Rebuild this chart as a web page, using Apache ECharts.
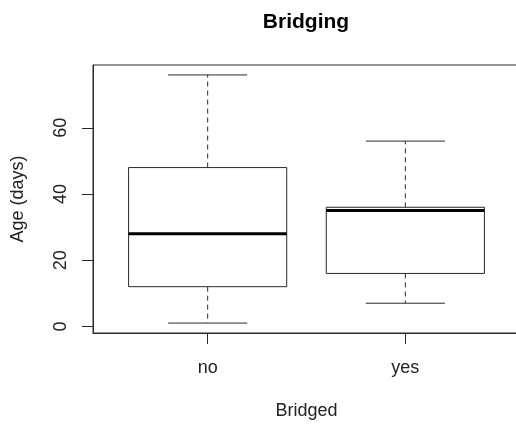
<!DOCTYPE html>
<html>
<head>
<meta charset="utf-8">
<script src="https://cdn.jsdelivr.net/npm/echarts@6/dist/echarts.min.js"></script>
<style>
  html, body { margin: 0; padding: 0; background: #fff; }
  #chart { width: 516px; height: 425px; }
</style>
</head>
<body>
<div id="chart"></div>
<script>
// boxplot stats per group
const categories = ['no', 'yes'];
const lowerWhisker = [1, 7];
const lowerHinge = [12, 16];
const medians = [28, 35];
const upperHinge = [48, 36];
const upperWhisker = [76, 56];

const yTicks = [0, 20, 40, 60];
const xTicks = [1, 2];

const font = 'Liberation Sans, Arial, Helvetica, sans-serif';
const ink = '#2a2a2a';

const boxData = categories.map((c, i) => [
  i + 1, lowerWhisker[i], lowerHinge[i], medians[i], upperHinge[i], upperWhisker[i]
]);

const renderBox = (params, api) => {
  const x = api.value(0);
  const pMin = api.coord([x, api.value(1)]);
  const pQ1 = api.coord([x, api.value(2)]);
  const pMed = api.coord([x, api.value(3)]);
  const pQ3 = api.coord([x, api.value(4)]);
  const pMax = api.coord([x, api.value(5)]);
  const boxW = api.size([0.8, 0])[0];
  const capW = api.size([0.4, 0])[0];
  const cx = pMed[0];
  const thin = { stroke: ink, lineWidth: 1, fill: null };
  const dashed = { stroke: ink, lineWidth: 1, lineDash: [5, 4] };
  return {
    type: 'group',
    children: [
      // whiskers
      { type: 'line', shape: { x1: cx, y1: pQ3[1], x2: cx, y2: pMax[1] }, style: dashed },
      { type: 'line', shape: { x1: cx, y1: pQ1[1], x2: cx, y2: pMin[1] }, style: dashed },
      // staples
      { type: 'line', shape: { x1: cx - capW / 2, y1: pMax[1], x2: cx + capW / 2, y2: pMax[1] }, style: thin },
      { type: 'line', shape: { x1: cx - capW / 2, y1: pMin[1], x2: cx + capW / 2, y2: pMin[1] }, style: thin },
      // box
      { type: 'rect', shape: { x: cx - boxW / 2, y: pQ3[1], width: boxW, height: pQ1[1] - pQ3[1] }, style: { stroke: ink, lineWidth: 1, fill: '#fff' } },
      // median
      { type: 'line', shape: { x1: cx - boxW / 2, y1: pMed[1], x2: cx + boxW / 2, y2: pMed[1] }, style: { stroke: '#000', lineWidth: 3 } }
    ]
  };
};

const chart = echarts.init(document.getElementById('chart'));
chart.setOption({
  animation: false,
  backgroundColor: '#fff',
  title: {
    text: 'Bridging',
    left: 301,
    top: 7,
    textAlign: 'center',
    textStyle: { fontSize: 21, fontWeight: 'bold', color: '#000', fontFamily: font }
  },
  grid: {
    left: 93,
    top: 65,
    width: 427,
    height: 268,
    show: true,
    borderColor: ink,
    borderWidth: 1,
    outerBoundsMode: 'none'
  },
  xAxis: {
    type: 'value',
    min: 0.42,
    max: 2.58,
    splitLine: { show: false },
    axisLine: { show: true, onZero: false, lineStyle: { color: ink, width: 1 } },
    axisTick: { show: true, length: 11, customValues: xTicks, lineStyle: { color: ink } },
    axisLabel: {
      customValues: xTicks,
      formatter: v => categories[Math.round(v) - 1],
      fontSize: 18, color: '#222', fontFamily: font, margin: 26
    },
    name: 'Bridged',
    nameLocation: 'middle',
    nameGap: 69,
    nameTextStyle: { fontSize: 18, color: '#222', fontFamily: font }
  },
  yAxis: {
    type: 'value',
    min: -2,
    max: 79,
    splitLine: { show: false },
    axisLine: { show: true, onZero: false, lineStyle: { color: ink, width: 1 } },
    axisTick: { show: true, length: 11, customValues: yTicks, lineStyle: { color: ink } },
    axisLabel: {
      customValues: yTicks,
      rotate: 90,
      fontSize: 18, color: '#222', fontFamily: font, margin: 23
    },
    name: 'Age (days)',
    nameLocation: 'middle',
    nameGap: 66,
    nameTextStyle: { fontSize: 18, color: '#222', fontFamily: font }
  },
  series: [{
    type: 'custom',
    renderItem: renderBox,
    encode: { x: 0, y: [1, 2, 3, 4, 5] },
    data: boxData
  }]
});
</script>
</body>
</html>
